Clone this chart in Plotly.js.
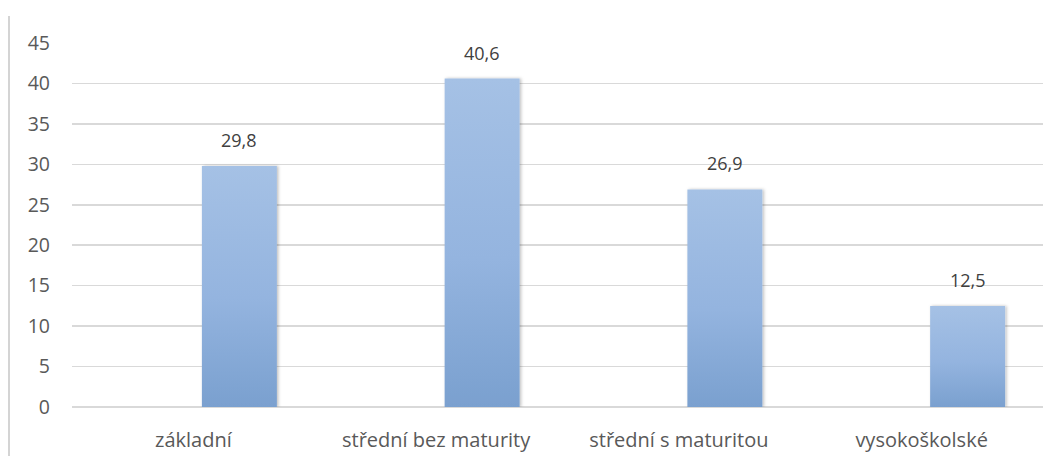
<!DOCTYPE html>
<html>
<head>
<meta charset="utf-8">
<script src="https://cdn.plot.ly/plotly-3.0.1.min.js"></script>
<style>
  html, body { margin: 0; padding: 0; background: #fff; }
  #chart { width: 1057px; height: 456px; }
  #frame { position: absolute; left: 8px; top: 16px; width: 2px; height: 440px; background: #d4d4d4; }
</style>
</head>
<body>
<div id="frame"></div>
<div id="chart"></div>
<script>
const categories = ["základní", "střední bez maturity", "střední s maturitou", "vysokoškolské"];
const values = [29.8, 40.6, 26.9, 12.5];
const emptySeries = [null, null, null, null];
const yTicks = [0, 5, 10, 15, 20, 25, 30, 35, 40, 45];

const fontFamily = "'Open Sans', Lato, sans-serif";

const traces = [
  { type: "bar", x: categories, y: emptySeries, hoverinfo: "skip", showlegend: false,
    marker: { color: "rgba(0,0,0,0)" } },
  { type: "bar", x: categories, y: values, showlegend: false,
    marker: { color: "#8fb0dc", line: { width: 0 } } }
];

const annotations = categories.map((c, i) => ({
  x: c, y: values[i], xref: "x", yref: "y",
  text: values[i].toFixed(1).replace(".", ","),
  showarrow: false, yanchor: "bottom", xshift: 46, yshift: 12,
  font: { family: fontFamily, size: 18, color: "#404040" }
}));

const layout = {
  width: 1057, height: 456,
  margin: { l: 72, r: 14, t: 43, b: 48.5, pad: 0 },
  paper_bgcolor: "rgba(0,0,0,0)", plot_bgcolor: "#fff",
  barmode: "group", bargap: 0.242, bargroupgap: 0.185,
  separators: ", ",
  showlegend: false,
  xaxis: {
    type: "category", showgrid: false, zeroline: false, showline: false,
    ticks: "", ticklabelstandoff: 19,
    tickfont: { family: fontFamily, size: 20, color: "#595959" }
  },
  yaxis: {
    range: [0, 45], tickvals: yTicks, ticktext: yTicks.map(String),
    showgrid: true, gridcolor: "#d9d9d9", gridwidth: 1.6,
    zeroline: true, zerolinecolor: "#d9d9d9", zerolinewidth: 1.6,
    showline: false, ticks: "", ticklabelstandoff: 21,
    tickfont: { family: fontFamily, size: 19.5, color: "#595959" }
  },
  annotations: annotations
};

Plotly.newPlot("chart", traces, layout, { displayModeBar: false, staticPlot: true }).then(gd => {
  const svg = gd.querySelector("svg.main-svg");
  const ns = "http://www.w3.org/2000/svg";
  let defs = svg.querySelector("defs");
  if (!defs) { defs = document.createElementNS(ns, "defs"); svg.insertBefore(defs, svg.firstChild); }
  const grad = document.createElementNS(ns, "linearGradient");
  grad.setAttribute("id", "barGrad");
  grad.setAttribute("x1", "0"); grad.setAttribute("y1", "0");
  grad.setAttribute("x2", "0"); grad.setAttribute("y2", "1");
  [["0%", "#a5c1e5"], ["55%", "#94b4df"], ["100%", "#7aa0cf"]].forEach(([o, c]) => {
    const s = document.createElementNS(ns, "stop");
    s.setAttribute("offset", o); s.setAttribute("stop-color", c);
    grad.appendChild(s);
  });
  defs.appendChild(grad);
  const filt = document.createElementNS(ns, "filter");
  filt.setAttribute("id", "barShadow");
  filt.setAttribute("x", "-10%"); filt.setAttribute("y", "-5%");
  filt.setAttribute("width", "125%"); filt.setAttribute("height", "110%");
  filt.innerHTML = '<feDropShadow dx="1.5" dy="0" stdDeviation="1.5" flood-color="#000" flood-opacity="0.25"/>';
  defs.appendChild(filt);
  const traceGroups = gd.querySelectorAll(".barlayer .trace");
  const last = traceGroups[traceGroups.length - 1];
  last.querySelectorAll("path").forEach(p => {
    p.style.fill = "url(#barGrad)";
    p.setAttribute("filter", "url(#barShadow)");
  });
});
</script>
</body>
</html>
